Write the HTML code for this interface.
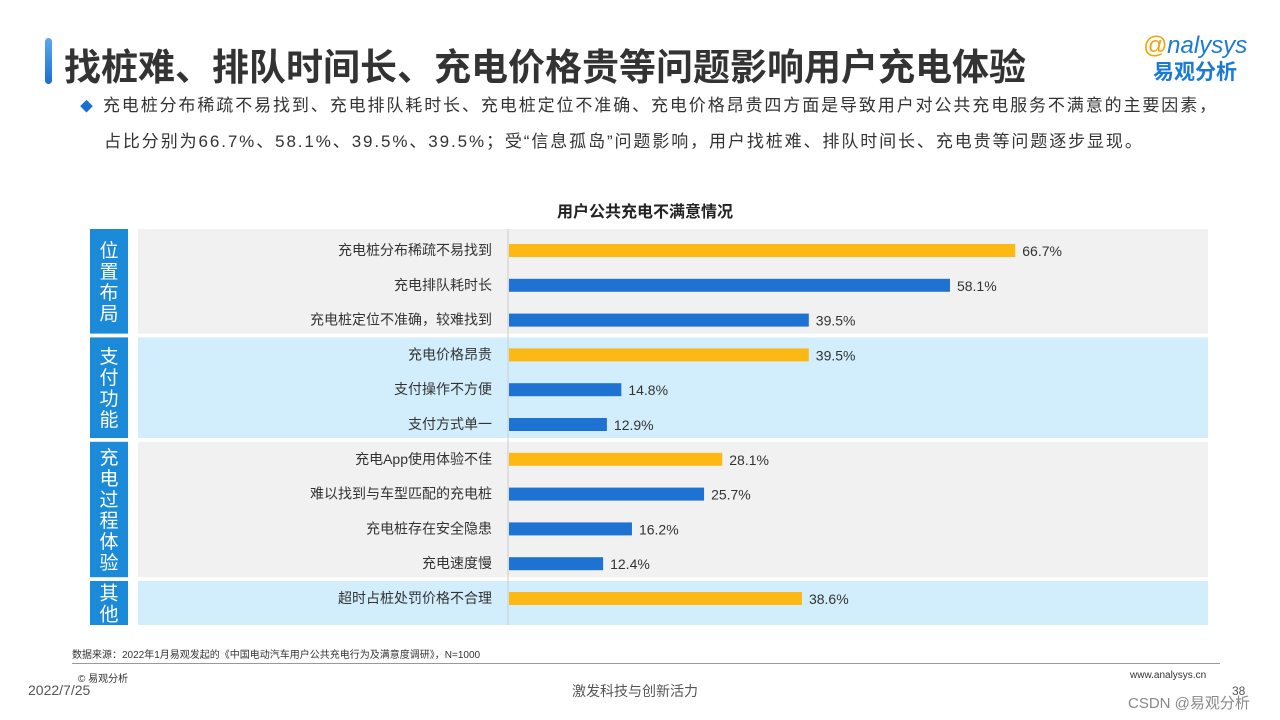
<!DOCTYPE html>
<html><head><meta charset="utf-8">
<style>
body{margin:0;width:1280px;height:720px;background:#fff;position:relative;overflow:hidden;font-family:"Liberation Sans","Noto Sans CJK SC",sans-serif;}
.abs{position:absolute;}
</style></head><body>
<div class="abs" style="left:45px;top:38px;width:7px;height:46px;border-radius:4px;background:linear-gradient(#5aa9ee,#1a6fd0);"></div>
<div class="abs" style="left:64px;top:37px;font-size:37px;font-weight:bold;color:#333;letter-spacing:0px;white-space:nowrap;">找桩难、排队时间长、充电价格贵等问题影响用户充电体验</div>
<div class="abs" style="left:1130px;top:32px;width:130px;text-align:center;">
<div style="font-size:24px;color:#1a7ad6;font-style:italic;line-height:28px;"><span style="color:#f5a20a">@</span>nalysys</div>
<div style="font-size:21px;color:#1a7ad6;font-weight:bold;line-height:26px;">易观分析</div></div>
<div class="abs" style="left:80px;top:88px;font-size:17px;color:#333;line-height:35px;width:1190px;letter-spacing:1.9px;white-space:nowrap;">
<span style="color:#1a6fd0;font-size:13px;margin-right:8px;">◆</span>充电桩分布稀疏不易找到、充电排队耗时长、充电桩定位不准确、充电价格昂贵四方面是导致用户对公共充电服务不满意的主要因素，<br><span style="padding-left:24px">占比分别为66.7%、58.1%、39.5%、39.5%；受“信息孤岛”问题影响，用户找桩难、排队时间长、充电贵等问题逐步显现。</span></div>
<div class="abs" style="left:0;width:1290px;top:198px;text-align:center;font-size:16px;font-weight:bold;color:#222;">用户公共充电不满意情况</div>
<svg class="abs" style="left:0;top:0" width="1280" height="720" id="chart"></svg>
<div class="abs" style="left:72px;top:646px;font-size:10px;color:#333;">数据来源：2022年1月易观发起的《中国电动汽车用户公共充电行为及满意度调研》，N=1000</div>
<div class="abs" style="left:72px;top:663px;width:1148px;height:1px;background:#999;"></div>
<div class="abs" style="left:78px;top:670px;font-size:10px;color:#333;">© 易观分析</div>
<div class="abs" style="left:28px;top:682px;font-size:14px;color:#555;">2022/7/25</div>
<div class="abs" style="left:572px;top:681px;font-size:14px;color:#555;">激发科技与创新活力</div>
<div class="abs" style="left:1130px;top:670px;font-size:10px;color:#333;">www.analysys.cn</div>
<div class="abs" style="left:1232px;top:684px;font-size:12px;color:#555;">38</div>
<div class="abs" style="left:1128px;top:692px;font-size:15px;color:#888;">CSDN @易观分析</div>
<script>
const categories=["充电桩分布稀疏不易找到","充电排队耗时长","充电桩定位不准确，较难找到","充电价格昂贵","支付操作不方便","支付方式单一","充电App使用体验不佳","难以找到与车型匹配的充电桩","充电桩存在安全隐患","充电速度慢","超时占桩处罚价格不合理"];
const values=[66.7,58.1,39.5,39.5,14.8,12.9,28.1,25.7,16.2,12.4,38.6];
const highlight=[1,0,0,1,0,0,1,0,0,0,1];
const groups=["位置布局","支付功能","充电过程体验","其他"];
const groupSizes=[3,3,4,1];
const NS="http://www.w3.org/2000/svg";
const svg=document.getElementById('chart');
const x0=509,pxPer=7.59;
const xs=v=>x0+v*pxPer;
const rowY=i=>250+i*34.8;
function mk(t,a,txt){const e=document.createElementNS(NS,t);for(const k in a)e.setAttribute(k,a[k]);if(txt!==undefined)e.textContent=txt;svg.appendChild(e);return e;}
let idx=0;
groups.forEach((g,gi)=>{
  const n=groupSizes[gi];
  const top=rowY(idx)-(gi==0?21:17), bot=rowY(idx+n-1)+(gi==3?27:14);
  const bg=mk('rect',{x:138,y:top,width:1070,height:bot-top,fill:gi%2?'#d2eefc':'#f1f1f1'});
  
  
  const lb=mk('rect',{x:90,y:top,width:38,height:bot-top,fill:'#1a8ad9'});
  
  
  const chars=g.split('');
  const cy=(top+bot)/2-(chars.length-1)*10.5;
  chars.forEach((c,ci)=>{const t=mk('text',{x:109,y:cy+ci*21+7,'text-anchor':'middle','font-size':19,fill:'#fff'},c);
    
    });
  idx+=n;
});
const ax=mk('line',{x1:508,x2:508,y1:229,y2:625,stroke:'#ccc','stroke-width':1});


categories.forEach((c,i)=>{
  const y=rowY(i);
  const t=mk('text',{x:492,y:y+5,'text-anchor':'end','font-size':14,fill:'#333'},c);
  
  
  const b=mk('rect',{x:x0,y:y-6,width:xs(values[i])-x0,height:13,fill:highlight[i]?'#fdb913':'#1e72d2'});
  
  
  const v=mk('text',{x:xs(values[i])+7,y:y+6,'font-size':14,fill:'#333'},values[i].toFixed(1)+'%');
  
  
});
</script>
</body></html>
